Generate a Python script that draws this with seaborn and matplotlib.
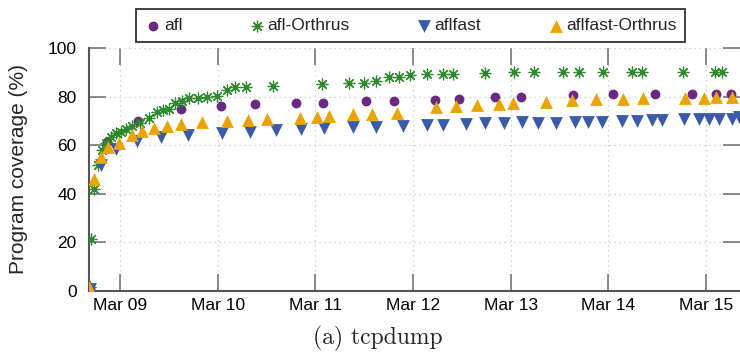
import matplotlib
matplotlib.use("Agg")
import matplotlib.pyplot as plt
import matplotlib.dates as mdates
import numpy as np
import pandas as pd
import seaborn as sns

# ---- data (x as day-of-March, y as coverage %) ----
afl_day = [8.693, 8.867, 9.184, 9.624, 10.034, 10.382, 10.801, 11.078, 11.518, 11.804,
           12.224, 12.470, 12.838, 13.104, 13.637, 14.046, 14.476, 14.855, 15.100, 15.253]
afl_cov = [1, 61.3, 70, 74.9, 76.1, 77, 77.4, 77.4, 78.2, 78.2,
           78.6, 79, 79.8, 79.8, 80.7, 81.1, 81.1, 81.1, 81.1, 81.1]

aflo_day = [8.693, 8.703, 8.734, 8.775, 8.816, 8.857, 8.908, 8.959, 9.010, 9.061,
            9.123, 9.205, 9.297, 9.379, 9.440, 9.502, 9.563, 9.635, 9.706, 9.798,
            9.890, 9.993, 10.095, 10.177, 10.290, 10.566, 11.068, 11.344, 11.497, 11.620,
            11.753, 11.856, 11.968, 12.142, 12.306, 12.408, 12.736, 13.033, 13.237, 13.534,
            13.698, 13.944, 14.241, 14.343, 14.763, 15.090, 15.162]
aflo_cov = [1.6, 21.4, 42, 52, 58, 61, 63.5, 65, 65.5, 66.5,
            68, 69, 71, 73.7, 74.5, 75, 77.4, 78, 79.4, 79.4,
            79.8, 80.2, 82.7, 84, 84, 84.4, 85.2, 85.6, 85.8, 86.6,
            88, 88, 89, 89.3, 89.3, 89.3, 89.7, 90, 90, 90,
            90, 90, 90.1, 90.1, 90.1, 90.1, 90.1]

fast_day = [8.693, 8.806, 8.959, 9.174, 9.420, 9.696, 10.044, 10.331, 10.597, 10.853,
            11.088, 11.385, 11.620, 11.897, 12.142, 12.306, 12.541, 12.736, 12.930, 13.115,
            13.278, 13.463, 13.657, 13.790, 13.933, 14.138, 14.292, 14.445, 14.548, 14.773,
            14.926, 15.029, 15.131, 15.264, 15.336]
fast_cov = [1, 52, 58.4, 61.7, 63.4, 64.2, 65, 65.4, 66.3, 66.7,
            67, 67.5, 67.5, 67.9, 68.3, 68.3, 68.7, 69, 69.1, 69.5,
            69.1, 69.1, 69.5, 69.5, 69.5, 69.9, 69.9, 70.4, 70.4, 70.8,
            70.8, 70.8, 70.8, 70.8, 71.6]

fasto_day = [8.683, 8.734, 8.806, 8.877, 8.990, 9.123, 9.225, 9.348, 9.481, 9.624,
             9.839, 10.095, 10.310, 10.505, 10.842, 11.016, 11.139, 11.385, 11.579, 11.835,
             12.234, 12.439, 12.654, 12.879, 13.023, 13.360, 13.626, 13.872, 14.148, 14.353,
             14.783, 14.977, 15.100, 15.264]
fasto_cov = [1.6, 46, 55, 59.3, 61, 64.2, 65.8, 67, 68, 68.7,
             69.5, 70, 70.4, 70.8, 71.2, 71.6, 72, 72.8, 73, 73.3,
             75.7, 76, 76.5, 77, 77.4, 77.8, 78.6, 79, 79, 79.4,
             79.4, 79.4, 79.8, 79.8]

series_names = ["afl", "afl-Orthrus", "aflfast", "aflfast-Orthrus"]
y_ticks = [0, 20, 40, 60, 80, 100]
y_label = "Program coverage (%)"
caption = "(a) tcpdump"

BASE = pd.Timestamp("2017-03-01")


def to_time(days):
    return [BASE + pd.Timedelta(days=d - 1) for d in days]


sns.set_theme(style="white")
plt.rcParams["font.family"] = ["Liberation Sans", "DejaVu Sans"]

fig = plt.figure(figsize=(7.4, 3.57), dpi=100)
ax = fig.add_axes([89 / 740, 1 - 291 / 357, 651 / 740, 243 / 357])

colors = {"afl": "#6B2A82", "afl-Orthrus": "#2F8A2F",
          "aflfast": "#3A5BAA", "aflfast-Orthrus": "#EAA300"}

sns.scatterplot(x=to_time(afl_day), y=afl_cov, ax=ax, marker="o", s=50,
                color=colors["afl"], linewidth=0, label=series_names[0], zorder=3)
sns.scatterplot(x=to_time(aflo_day), y=aflo_cov, ax=ax, marker=(8, 2, 0), s=60,
                color=colors["afl-Orthrus"], linewidth=0.9, label=series_names[1], zorder=3)
sns.scatterplot(x=to_time(fast_day), y=fast_cov, ax=ax, marker="v", s=85,
                color=colors["aflfast"], linewidth=0, label=series_names[2], zorder=3)
sns.scatterplot(x=to_time(fasto_day), y=fasto_cov, ax=ax, marker="^", s=85,
                color=colors["aflfast-Orthrus"], linewidth=0, label=series_names[3], zorder=3)

ax.set_xlim(BASE + pd.Timedelta(days=8.683 - 1), BASE + pd.Timedelta(days=15.346 - 1))
ax.set_ylim(0, 100)
ax.set_yticks(y_ticks)
ax.xaxis.set_major_locator(mdates.DayLocator())
ax.xaxis.set_major_formatter(mdates.DateFormatter("%b %d"))

ax.grid(True, linestyle=(0, (1, 3)), color="#c8c8c8", linewidth=0.9)
for side in ["top", "right"]:
    ax.spines[side].set_visible(False)
for side in ["left", "bottom"]:
    ax.spines[side].set_color("#555555")
    ax.spines[side].set_linewidth(1.5)

ax.tick_params(axis="both", which="major", direction="in", length=12, width=1.2,
               color="#777777", top=True, right=True, bottom=True, left=True,
               labelsize=12.5, labelcolor="black")
ax.tick_params(axis="x", pad=5)
ax.tick_params(axis="y", pad=9)

ax.set_xlabel("")
ax.set_ylabel(y_label, fontsize=15, labelpad=14)

handles, labels = ax.get_legend_handles_labels()
ax.get_legend().remove()
leg = fig.legend(handles, labels, ncol=4, mode="expand", loc="lower left",
                 bbox_to_anchor=(136 / 740, 1 - 42 / 357, 549 / 740, 38 / 357),
                 borderaxespad=0, frameon=True, fancybox=False, fontsize=12.5,
                 handletextpad=0.1, handlelength=1.0, scatterpoints=1,
                 borderpad=0.5)
leg.get_frame().set_edgecolor("black")
leg.get_frame().set_linewidth(1.3)

fig.text(378 / 740, 1 - 338 / 357, caption, ha="center", va="center",
         fontsize=17, family=["cmr10", "DejaVu Serif"])

fig.savefig("out.png", dpi=100)
